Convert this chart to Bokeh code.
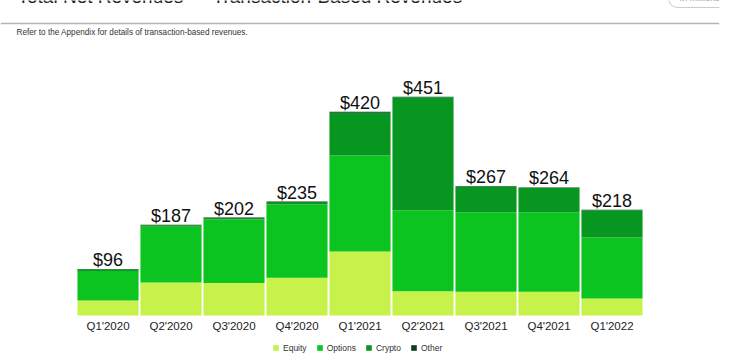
from bokeh.plotting import figure
from bokeh.models import (FactorRange, Range1d, Legend, LegendItem, Label, Span,
                          ColumnDataSource, BoxAnnotation)
from bokeh.core.properties import value
from bokeh.embed import file_html
from bokeh.resources import INLINE

quarters = ["Q1'2020", "Q2'2020", "Q3'2020", "Q4'2020", "Q1'2021",
            "Q2'2021", "Q3'2021", "Q4'2021", "Q1'2022"]
equity = [31, 68, 67, 78, 132, 50, 49, 49, 35]
options = [61, 115, 131, 151, 198, 167, 164, 164, 126]
crypto = [3, 3, 3, 5, 88, 233, 53, 50, 56]
other = [1, 1, 1, 1, 2, 1, 1, 1, 1]
series_names = ["Equity", "Options", "Crypto", "Other"]
colors = ["#c6f24a", "#0cc41f", "#07961f", "#0d3d24"]

totals = [e + o + c + t for e, o, c, t in zip(equity, options, crypto, other)]
labels = ["$%d" % v for v in totals]

FONT = "Liberation Sans"
W, H = 750, 360
PX_PER_UNIT = 0.485
BASE_PX = 315          # baseline position from top of canvas
BAR_STEP = 63
PAD_PX = 76


def ydata(px_from_top):
    return (BASE_PX - px_from_top) / PX_PER_UNIT


def xdata(px_from_left):
    return px_from_left / BAR_STEP - PAD_PX / BAR_STEP


source = ColumnDataSource(dict(q=quarters, Equity=equity, Options=options,
                               Crypto=crypto, Other=other, total=totals, label=labels))

p = figure(x_range=FactorRange(factors=quarters, range_padding=PAD_PX / BAR_STEP,
                               range_padding_units="absolute"),
           y_range=Range1d(ydata(H), ydata(0)),
           width=W, height=H,
           output_backend="svg", toolbar_location=None,
           min_border_left=0, min_border_right=W - (2 * PAD_PX + 9 * BAR_STEP),
           min_border_top=0, min_border_bottom=0,
           y_axis_location=None)
p.outline_line_color = None
p.xgrid.grid_line_color = None
p.ygrid.grid_line_color = None

renderers = p.vbar_stack(series_names, x="q", width=0.97, color=colors,
                         line_color=None, source=source)

p.text(x="q", y="total", text="label", source=source, text_align="center",
       text_baseline="middle", y_offset=-9, text_font=value(FONT),
       text_font_size="18px", text_color="#111111")

ax = p.xaxis[0]
ax.fixed_location = 0
ax.axis_line_color = None
ax.major_tick_line_color = None
ax.minor_tick_line_color = None
ax.major_tick_out = 0
ax.major_tick_in = 0
ax.major_label_standoff = 4
ax.major_label_text_font = FONT
ax.major_label_text_font_size = "11.5px"
ax.major_label_text_color = "#222222"

legend = Legend(items=[LegendItem(label=n, renderers=[r]) for n, r in zip(series_names, renderers)],
                orientation="horizontal", location=(272, 7.5), border_line_color=None,
                background_fill_alpha=0, label_text_font=FONT, label_text_font_size="8.5px",
                label_text_color="#333333", glyph_width=7, glyph_height=7, label_height=9,
                label_standoff=4, spacing=9, padding=0, margin=0)
p.add_layout(legend)

# page title (cut off at the top edge) and unit pill
title = Label(x=17, x_units="screen", y=ydata(-3.8), y_units="data",
              text="Total Net Revenues \u2014 Transaction-Based Revenues",
              text_font=FONT, text_font_size="19px", text_color="#222222",
              text_baseline="middle")
p.add_layout(title)

pill = BoxAnnotation(left=xdata(668), right=xdata(731), bottom=ydata(7), top=ydata(-30),
                     fill_alpha=0, line_color="#555555", line_width=1, border_radius=9)
p.add_layout(pill)
unit = Label(x=xdata(699), y=ydata(-2.5), text="In millions", text_align="center",
             text_baseline="middle", text_font=FONT, text_font_size="9px",
             text_color="#333333")
p.add_layout(unit)

rule = Span(location=ydata(23), dimension="width", line_color="#b4b4b4", line_width=1.5)
p.add_layout(rule)

sub = Label(x=16, x_units="screen", y=ydata(32), y_units="data",
            text="Refer to the Appendix for details of transaction-based revenues.",
            text_font=FONT, text_font_size="8.2px", text_color="#333333",
            text_baseline="middle")
p.add_layout(sub)

open("out.html", "w").write(file_html(p, INLINE))
